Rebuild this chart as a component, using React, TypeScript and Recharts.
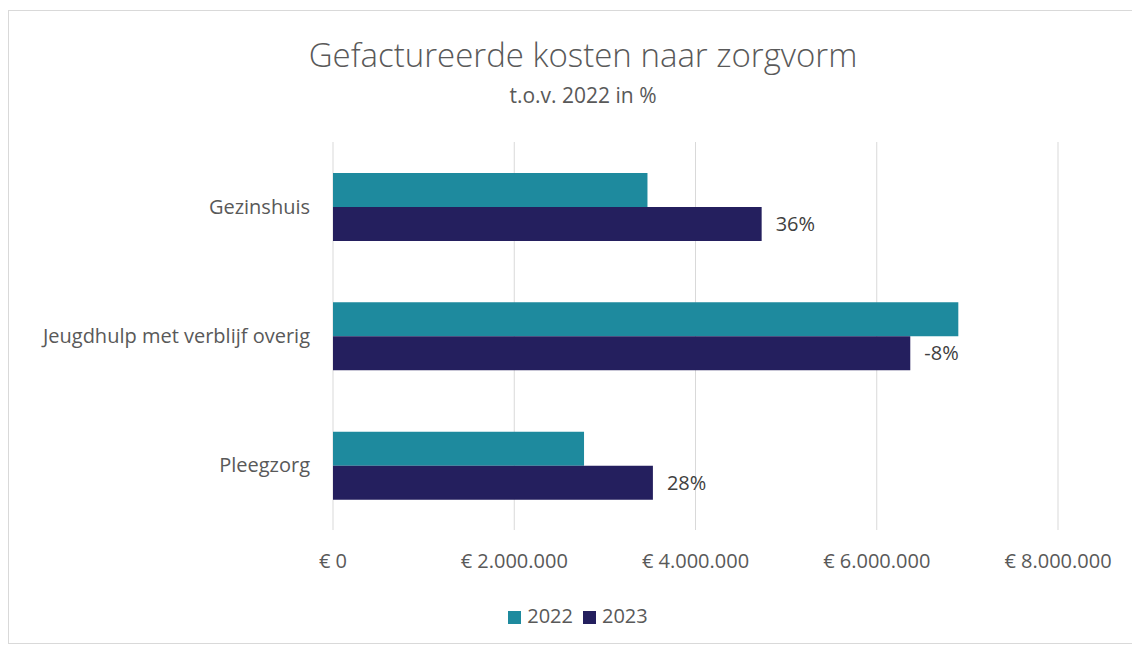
import { BarChart, Bar, XAxis, YAxis, CartesianGrid, Legend, LabelList } from 'recharts';

const categories = ['Gezinshuis', 'Jeugdhulp met verblijf overig', 'Pleegzorg'];
const costs2022 = [3470000, 6900000, 2770000];
const costs2023 = [4730000, 6370000, 3530000];
const changeLabels = ['36%', '-8%', '28%'];
const xTicks = [0, 2000000, 4000000, 6000000, 8000000];

const data = categories.map((name, i) => ({
  name,
  y2022: costs2022[i],
  y2023: costs2023[i],
  change: changeLabels[i],
}));

const FONT = '"Open Sans", "Noto Sans", sans-serif';
const TEXT = '#595959';

const formatEuro = (v: number) => (v === 0 ? '€ 0' : '€ ' + v.toLocaleString('nl-NL'));

export default function App() {
  return (
    <div style={{ position: 'absolute', left: 0, top: 0, width: 1132, height: 647, background: '#fff', fontFamily: FONT }}>
      <div style={{ position: 'absolute', left: 8, top: 10, width: 1130, height: 634, border: '1px solid #d9d9d9', boxSizing: 'border-box' }} />
      <div style={{ position: 'absolute', left: 0, width: 1166, top: 33, textAlign: 'center', fontSize: 33, fontWeight: 300, color: TEXT, lineHeight: '44px' }}>
        Gefactureerde kosten naar zorgvorm
      </div>
      <div style={{ position: 'absolute', left: 0, width: 1166, top: 80, textAlign: 'center', fontSize: 21, color: TEXT, lineHeight: '30px' }}>
        t.o.v. 2022 in %
      </div>
      <div style={{ position: 'absolute', left: 0, top: 0 }}>
        <BarChart
          width={1132}
          height={647}
          data={data}
          layout="vertical"
          margin={{ top: 142, right: 74, bottom: 40, left: 0 }}
          barCategoryGap={31}
          barGap={0}
        >
          <CartesianGrid horizontal={false} stroke="#d9d9d9" />
          <XAxis
            type="number"
            domain={[0, 8000000]}
            ticks={xTicks}
            tickFormatter={formatEuro}
            axisLine={false}
            tickLine={false}
            tickSize={0}
            tickMargin={24}
            height={50}
            tick={{ fill: TEXT, fontSize: 20, fontFamily: FONT }}
          />
          <YAxis
            type="category"
            dataKey="name"
            width={333}
            axisLine={false}
            tickLine={false}
            tickSize={0}
            tickMargin={23}
            tick={{ fill: TEXT, fontSize: 20, fontFamily: FONT }}
          />
          <Legend
            verticalAlign="bottom"
            align="center"
            iconType="square"
            iconSize={13}
            wrapperStyle={{ left: 0, width: 1166, top: 602, bottom: 'auto', fontSize: 20, fontFamily: FONT }}
            formatter={(value: string) => <span style={{ color: TEXT, marginLeft: 2 }}>{value}</span>}
          />
          <Bar dataKey="y2022" name="2022" fill="#1e8a9e" isAnimationActive={false} />
          <Bar dataKey="y2023" name="2023" fill="#241f5e" isAnimationActive={false}>
            <LabelList dataKey="change" position="right" offset={14} fill="#404040" fontSize={20} fontFamily={FONT} />
          </Bar>
        </BarChart>
      </div>
    </div>
  );
}
